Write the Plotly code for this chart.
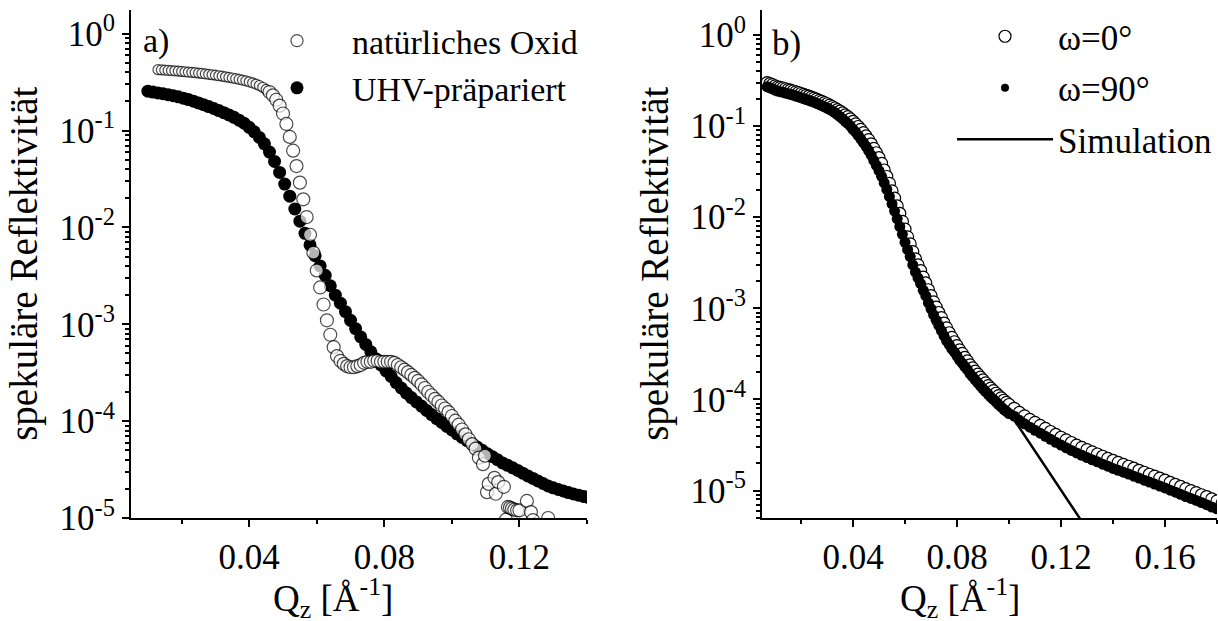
import plotly.graph_objects as go

# ---------------- panel a) ----------------
q_oxid = [0.013, 0.014, 0.015, 0.016, 0.017, 0.018, 0.019, 0.020, 0.021, 0.022,
          0.023, 0.024, 0.025, 0.026, 0.027, 0.028, 0.029, 0.030, 0.031, 0.032,
          0.033, 0.034, 0.035, 0.036, 0.037, 0.038, 0.039, 0.040, 0.041, 0.042,
          0.043, 0.044, 0.045, 0.046, 0.047, 0.048, 0.049, 0.050, 0.051, 0.052,
          0.053, 0.054, 0.055, 0.056, 0.057, 0.058, 0.059, 0.060, 0.061, 0.062,
          0.063, 0.064, 0.065, 0.066, 0.067, 0.068, 0.069, 0.070, 0.071, 0.072,
          0.073, 0.074, 0.075, 0.076, 0.077, 0.078, 0.079, 0.080, 0.081, 0.082,
          0.083, 0.084, 0.085, 0.086, 0.087, 0.088, 0.089, 0.090, 0.091, 0.092,
          0.093, 0.094, 0.095, 0.096, 0.097, 0.098, 0.099, 0.100, 0.101, 0.102,
          0.103, 0.104, 0.105, 0.106, 0.107, 0.108, 0.1092, 0.1098, 0.1104, 0.1109,
          0.1126, 0.1130, 0.1137, 0.1154, 0.1160, 0.1166, 0.1172, 0.1178, 0.1185,
          0.1193, 0.1200, 0.1222, 0.1234, 0.1240, 0.1285]
r_oxid = [0.425, 0.423, 0.421, 0.418, 0.416, 0.414, 0.411, 0.408, 0.405, 0.402,
          0.399, 0.396, 0.392, 0.389, 0.385, 0.381, 0.377, 0.373, 0.368, 0.364,
          0.359, 0.354, 0.349, 0.344, 0.338, 0.332, 0.326, 0.319, 0.311, 0.302,
          0.292, 0.280, 0.266, 0.250, 0.231, 0.208, 0.181, 0.150, 0.117, 0.086,
          0.062, 0.043, 0.029, 0.0195, 0.0128, 0.0084, 0.0055, 0.0036, 0.0024, 0.0016,
          0.0011, 0.00078, 0.00058, 0.00047, 0.00042, 0.00039, 0.00037, 0.00036, 0.00036, 0.00037,
          0.00038, 0.00040, 0.00041, 0.00041, 0.00042, 0.00042, 0.00041, 0.00041, 0.00041, 0.00041,
          0.00040, 0.00038, 0.00036, 0.00034, 0.00032, 0.00030, 0.00028, 0.00026, 0.00024, 0.00022,
          0.00020, 0.000185, 0.000170, 0.000158, 0.000145, 0.000135, 0.000124, 0.000113, 0.000101, 0.000092,
          0.000082, 0.000073, 0.000065, 0.000058, 0.000052, 0.000042, 0.000036, 0.000044, 0.0000185, 0.0000225,
          0.000026, 0.0000178, 0.0000235, 0.000021, 0.0000096, 0.000013, 0.0000128, 0.0000125, 0.0000122,
          0.000012, 0.000012, 0.000015, 0.0000115, 0.0000095, 0.0000100]

q_uhv = [0.0100, 0.0115, 0.0130, 0.0145, 0.0160, 0.0175, 0.0190, 0.0205, 0.0220, 0.0235,
         0.0250, 0.0265, 0.0280, 0.0295, 0.0310, 0.0325, 0.0340, 0.0355, 0.0370, 0.0385,
         0.0400, 0.0415, 0.0430, 0.0445, 0.0460, 0.0475, 0.0490, 0.0505, 0.0520, 0.0535,
         0.0550, 0.0565, 0.0580, 0.0595, 0.0610, 0.0625, 0.0640, 0.0655, 0.0670, 0.0685,
         0.0700, 0.0715, 0.0730, 0.0745, 0.0760, 0.0775, 0.0790, 0.0805, 0.0820, 0.0835,
         0.0850, 0.0865, 0.0880, 0.0895, 0.0910, 0.0925, 0.0940, 0.0955, 0.0970, 0.0985,
         0.1000, 0.1015, 0.1030, 0.1045, 0.1060, 0.1075, 0.1090, 0.1105, 0.1120, 0.1135,
         0.1150, 0.1165, 0.1180, 0.1195, 0.1210, 0.1225, 0.1240, 0.1255, 0.1270, 0.1285,
         0.1300, 0.1315, 0.1330, 0.1345, 0.1360, 0.1375, 0.1390, 0.1405]
r_uhv = [0.255, 0.250, 0.245, 0.240, 0.235, 0.229, 0.223, 0.216, 0.209, 0.201,
         0.193, 0.185, 0.177, 0.169, 0.161, 0.153, 0.145, 0.137, 0.128, 0.119,
         0.108, 0.097, 0.085, 0.073, 0.060, 0.048, 0.037, 0.028, 0.0210, 0.0155,
         0.0116, 0.0087, 0.0066, 0.0051, 0.0040, 0.0032, 0.0025, 0.0020, 0.00165, 0.00135,
         0.00110, 0.00090, 0.00074, 0.00062, 0.00052, 0.00044, 0.00038, 0.00033, 0.00029, 0.00025,
         0.00022, 0.000195, 0.000175, 0.000158, 0.000143, 0.000129, 0.000117, 0.000106, 0.000097, 0.000088,
         0.000081, 0.000074, 0.000068, 0.000063, 0.000058, 0.000054, 0.000050, 0.000046, 0.000043, 0.000040,
         0.000037, 0.000035, 0.000033, 0.000031, 0.000029, 0.0000272, 0.0000256, 0.0000241, 0.0000227, 0.0000214,
         0.0000205, 0.0000197, 0.0000190, 0.0000183, 0.0000177, 0.0000172, 0.0000167, 0.0000162]

# ---------------- panel b) ----------------
q_b = [0.007, 0.008, 0.009, 0.010, 0.011, 0.012, 0.013, 0.014, 0.015, 0.016,
       0.017, 0.018, 0.019, 0.020, 0.021, 0.022, 0.023, 0.024, 0.025, 0.026,
       0.027, 0.028, 0.029, 0.030, 0.031, 0.032, 0.033, 0.034, 0.035, 0.036,
       0.037, 0.038, 0.039, 0.040, 0.041, 0.042, 0.043, 0.044, 0.045, 0.046,
       0.047, 0.048, 0.049, 0.050, 0.051, 0.052, 0.053, 0.054, 0.055, 0.056,
       0.057, 0.058, 0.059, 0.060, 0.061, 0.062, 0.063, 0.064, 0.065, 0.066,
       0.067, 0.068, 0.069, 0.070, 0.071, 0.072, 0.073, 0.074, 0.075, 0.076,
       0.077, 0.078, 0.079, 0.080, 0.081, 0.082, 0.083, 0.084, 0.085, 0.086,
       0.087, 0.088, 0.089, 0.090, 0.091, 0.092, 0.093, 0.094, 0.095, 0.096,
       0.097, 0.098, 0.099, 0.100, 0.102, 0.104, 0.106, 0.108, 0.110, 0.112,
       0.114, 0.116, 0.118, 0.120, 0.122, 0.124, 0.126, 0.128, 0.130, 0.132,
       0.134, 0.136, 0.138, 0.140, 0.142, 0.144, 0.146, 0.148, 0.150, 0.152,
       0.154, 0.156, 0.158, 0.160, 0.162, 0.164, 0.166, 0.168, 0.170, 0.172,
       0.174, 0.176, 0.178, 0.180, 0.182]
r_omega0 = [0.300, 0.292, 0.285, 0.277, 0.270, 0.266, 0.262, 0.257, 0.252, 0.248,
            0.243, 0.238, 0.233, 0.228, 0.223, 0.218, 0.213, 0.208, 0.203, 0.198,
            0.192, 0.187, 0.181, 0.176, 0.170, 0.164, 0.158, 0.152, 0.146, 0.140,
            0.133, 0.127, 0.120, 0.113, 0.106, 0.099, 0.092, 0.085, 0.078, 0.071,
            0.064, 0.057, 0.051, 0.045, 0.039, 0.033, 0.028, 0.0235, 0.0195, 0.0162,
            0.0133, 0.0110, 0.0090, 0.0074, 0.0061, 0.0051, 0.0042, 0.0035, 0.0030, 0.0026,
            0.0022, 0.0019, 0.00160, 0.00138, 0.00118, 0.00103, 0.00090, 0.00079, 0.00069, 0.00061,
            0.00054, 0.00048, 0.00043, 0.00039, 0.00035, 0.00032, 0.00029, 0.000265, 0.00024, 0.000222,
            0.000205, 0.000190, 0.000176, 0.000164, 0.000152, 0.000142, 0.000133, 0.000125, 0.000117, 0.000110,
            0.000104, 0.000098, 0.000093, 0.000088, 0.000080, 0.000072, 0.000066, 0.0000605, 0.0000560, 0.0000520,
            0.0000481, 0.0000445, 0.0000413, 0.0000385, 0.0000360, 0.0000337, 0.0000316, 0.0000298, 0.0000281, 0.0000266,
            0.0000252, 0.0000238, 0.0000226, 0.0000214, 0.0000204, 0.0000194, 0.0000185, 0.0000176, 0.0000167, 0.0000159,
            0.0000151, 0.0000144, 0.0000137, 0.0000130, 0.0000123, 0.0000117, 0.0000111, 0.0000105, 0.0000100, 0.0000095,
            0.0000090, 0.0000086, 0.0000081, 0.0000077, 0.0000073]
r_omega90 = [0.270, 0.263, 0.257, 0.249, 0.243, 0.239, 0.236, 0.231, 0.227, 0.223,
             0.219, 0.214, 0.210, 0.205, 0.201, 0.196, 0.192, 0.187, 0.183, 0.178,
             0.173, 0.168, 0.163, 0.158, 0.153, 0.147, 0.141, 0.134, 0.127, 0.120,
             0.113, 0.107, 0.100, 0.092, 0.086, 0.079, 0.072, 0.066, 0.060, 0.054,
             0.048, 0.042, 0.037, 0.0324, 0.0281, 0.0238, 0.0202, 0.0169, 0.0140, 0.0117,
             0.0096, 0.0079, 0.0065, 0.0053, 0.0044, 0.0037, 0.0030, 0.0025, 0.00216, 0.00187,
             0.00158, 0.00137, 0.00115, 0.00099, 0.00085, 0.00074, 0.00065, 0.00057, 0.00050, 0.00044,
             0.00040, 0.00036, 0.00033, 0.00030, 0.00027, 0.00025, 0.00023, 0.000212, 0.000192, 0.000178,
             0.000164, 0.000152, 0.000141, 0.000131, 0.000122, 0.000114, 0.000106, 0.000100, 0.000094, 0.000088,
             0.000083, 0.000078, 0.000074, 0.000070, 0.0000656, 0.0000590, 0.0000541, 0.0000496, 0.0000459, 0.0000426,
             0.0000394, 0.0000365, 0.0000339, 0.0000316, 0.0000295, 0.0000276, 0.0000259, 0.0000244, 0.0000230, 0.0000218,
             0.0000207, 0.0000195, 0.0000185, 0.0000175, 0.0000167, 0.0000159, 0.0000152, 0.0000144, 0.0000137, 0.0000130,
             0.0000124, 0.0000118, 0.0000112, 0.0000107, 0.0000101, 0.0000096, 0.0000091, 0.0000086, 0.0000082, 0.0000078,
             0.0000074, 0.0000070, 0.0000066, 0.0000063, 0.0000060]

q_sim = [0.005, 0.007, 0.015, 0.025, 0.035, 0.041, 0.045, 0.049, 0.053, 0.057,
         0.061, 0.065, 0.069, 0.073, 0.077, 0.081, 0.085, 0.089, 0.093, 0.097,
         0.0988, 0.1272, 0.135]
r_sim = [0.29, 0.28, 0.24, 0.19, 0.14, 0.098, 0.070, 0.044, 0.024, 0.0115,
         0.0053, 0.0026, 0.00140, 0.00080, 0.00048, 0.00031, 0.00021, 0.000155, 0.000118, 0.000092,
         0.000082, 0.000005, 0.0000023]

y_tickvals = [1e-5, 1e-4, 1e-3, 1e-2, 1e-1, 1e0]
y_ticktext = ["10<sup>-5</sup>", "10<sup>-4</sup>", "10<sup>-3</sup>",
              "10<sup>-2</sup>", "10<sup>-1</sup>", "10<sup>0</sup>"]
xa_major = [0.04, 0.08, 0.12]
xa_minor = [0.02, 0.06, 0.10, 0.14]
xb_major = [0.04, 0.08, 0.12, 0.16]
xb_minor = [0.02, 0.06, 0.10, 0.14, 0.18]

FONT = "Liberation Serif, Times New Roman, DejaVu Serif, serif"
BLACK = "black"

log_minor = [m * 10 ** e for e in range(-6, 1) for m in range(2, 10)]

fig = go.Figure()

# panel a) traces
fig.add_trace(go.Scatter(
    x=q_uhv, y=r_uhv, mode="markers", name="UHV-präpariert",
    marker=dict(symbol="circle", size=13, color=BLACK, line=dict(width=0)),
    xaxis="x", yaxis="y", legend="legend", legendrank=2, legendgroup="uhv"))
oxid_sizes = [10 if q < 0.046 else 13 for q in q_oxid]
fig.add_trace(go.Scatter(
    x=q_oxid, y=r_oxid, mode="markers", name="natürliches Oxid",
    marker=dict(symbol="circle", size=oxid_sizes, color="white",
                line=dict(width=1.2, color=BLACK)),
    xaxis="x", yaxis="y", legend="legend", legendrank=1, legendgroup="oxid"))

# panel b) traces
fig.add_trace(go.Scatter(
    x=q_sim, y=r_sim, mode="lines", name="Simulation",
    line=dict(color=BLACK, width=2.5),
    xaxis="x2", yaxis="y2", legend="legend2", legendrank=3, legendgroup="sim"))
fig.add_trace(go.Scatter(
    x=q_b, y=r_omega0, mode="markers", name="ω=0°",
    marker=dict(symbol="circle", size=12, color="white",
                line=dict(width=1.2, color=BLACK)),
    xaxis="x2", yaxis="y2", legend="legend2", legendrank=1, legendgroup="w0"))
fig.add_trace(go.Scatter(
    x=q_b, y=r_omega90, mode="markers", name="ω=90°", showlegend=False,
    marker=dict(symbol="circle", size=11, color=BLACK, line=dict(width=0)),
    xaxis="x2", yaxis="y2", legend="legend2", legendgroup="w90"))
# smaller legend glyph for the filled series
fig.add_trace(go.Scatter(
    x=[None], y=[None], mode="markers", name="ω=90°",
    marker=dict(symbol="circle", size=8, color=BLACK, line=dict(width=0)),
    xaxis="x2", yaxis="y2", legend="legend2", legendrank=2, legendgroup="w90"))

W, H = 1218, 621
dom_a = [131 / W, 587 / W]
dom_b = [762 / W, 1217 / W]
dom_y = [(H - 518) / H, (H - 9.5) / H]
range_a_x = [0.005, 0.14]
range_b_x = [0.005, 0.18]
range_a_y = [-5, 0.25]
range_b_y = [-5.301, 0.28]

tickfont = dict(family=FONT, size=35, color=BLACK)


def bottom_x(domain, rng, major, minor, anchor):
    return dict(domain=domain, range=rng, anchor=anchor, showgrid=False, zeroline=False,
                automargin=False,
                showline=True, linecolor=BLACK, linewidth=2,
                ticks="outside", ticklen=7, tickwidth=2, tickcolor=BLACK,
                tickmode="array", tickvals=major, ticktext=[f"{v:.2f}" for v in major],
                tickfont=tickfont,
                minor=dict(tickmode="array", tickvals=minor, ticks="outside",
                           ticklen=4, tickwidth=2, tickcolor=BLACK, showgrid=False))


def top_x(domain, rng, overlay, anchor):
    vals = [v / 100 for v in range(2, int(rng[1] * 100) + 1, 2)]
    return dict(domain=domain, range=rng, overlaying=overlay, anchor=anchor, side="top",
                automargin=False,
                showgrid=False, zeroline=False, showline=True, linecolor=BLACK, linewidth=2,
                ticks="inside", ticklen=7, tickwidth=2, tickcolor=BLACK,
                tickmode="array", tickvals=vals, showticklabels=False)


def left_y(rng, anchor, title):
    return dict(domain=dom_y, type="log", range=rng, anchor=anchor, showgrid=False,
                automargin=False,
                zeroline=False, showline=True, linecolor=BLACK, linewidth=2,
                ticks="outside", ticklen=7, tickwidth=2, tickcolor=BLACK,
                tickmode="array", tickvals=y_tickvals, ticktext=y_ticktext,
                tickfont=tickfont,
                minor=dict(tickmode="array", tickvals=log_minor, ticks="outside",
                           ticklen=4, tickwidth=1.5, tickcolor=BLACK, showgrid=False),
                title=dict(text=title, font=dict(family=FONT, size=39, color=BLACK),
                           standoff=10))


def right_y(rng, overlay, anchor):
    return dict(domain=dom_y, type="log", range=rng, overlaying=overlay, anchor=anchor,
                automargin=False,
                side="right", showgrid=False, zeroline=False, showline=True,
                linecolor=BLACK, linewidth=2,
                ticks="inside", ticklen=7, tickwidth=2, tickcolor=BLACK,
                tickmode="array", tickvals=y_tickvals, showticklabels=False,
                minor=dict(tickmode="array", tickvals=log_minor, ticks="inside",
                           ticklen=4, tickwidth=1.5, tickcolor=BLACK, showgrid=False))


ytitle = "spekuläre Reflektivität"
xtitle = "Q<sub>z</sub> [Å<sup>-1</sup>]"

fig.update_layout(
    width=W, height=H,
    margin=dict(l=0, r=0, t=0, b=0, autoexpand=False),
    paper_bgcolor="white", plot_bgcolor="white",
    font=dict(family=FONT, color=BLACK),
    xaxis=bottom_x(dom_a, range_a_x, xa_major, xa_minor, "y"),
    yaxis=left_y(range_a_y, "x", ytitle),
    xaxis2=bottom_x(dom_b, range_b_x, xb_major, xb_minor, "y2"),
    yaxis2=left_y(range_b_y, "x2", ytitle),
    xaxis3=top_x(dom_a, range_a_x, "x", "y"),
    yaxis3=right_y(range_a_y, "y", "x"),
    xaxis4=top_x(dom_b, range_b_x, "x2", "y2"),
    yaxis4=right_y(range_b_y, "y2", "x2"),
    legend=dict(x=242 / W, y=1 - 12 / H, xanchor="left", yanchor="top",
                bgcolor="rgba(0,0,0,0)", borderwidth=0,
                font=dict(family=FONT, size=34, color=BLACK),
                itemwidth=100, tracegroupgap=0),
    legend2=dict(x=952 / W, y=1 - 7 / H, xanchor="left", yanchor="top",
                 bgcolor="rgba(0,0,0,0)", borderwidth=0,
                 font=dict(family=FONT, size=35, color=BLACK),
                 itemwidth=96, tracegroupgap=3),
    showlegend=True,
    annotations=[
        dict(text="a)", x=141 / W, y=1 - 41 / H, xref="paper", yref="paper",
             xanchor="left", yanchor="middle", showarrow=False,
             font=dict(family=FONT, size=34, color=BLACK)),
        dict(text="b)", x=770 / W, y=1 - 44 / H, xref="paper", yref="paper",
             xanchor="left", yanchor="middle", showarrow=False,
             font=dict(family=FONT, size=35, color=BLACK)),
        dict(text=xtitle, x=333 / W, y=1 - 598 / H, xref="paper", yref="paper",
             xanchor="center", yanchor="middle", showarrow=False,
             font=dict(family=FONT, size=37, color=BLACK)),
        dict(text=xtitle, x=960 / W, y=1 - 598 / H, xref="paper", yref="paper",
             xanchor="center", yanchor="middle", showarrow=False,
             font=dict(family=FONT, size=37, color=BLACK)),
    ],
)

fig.write_html("out.html")
